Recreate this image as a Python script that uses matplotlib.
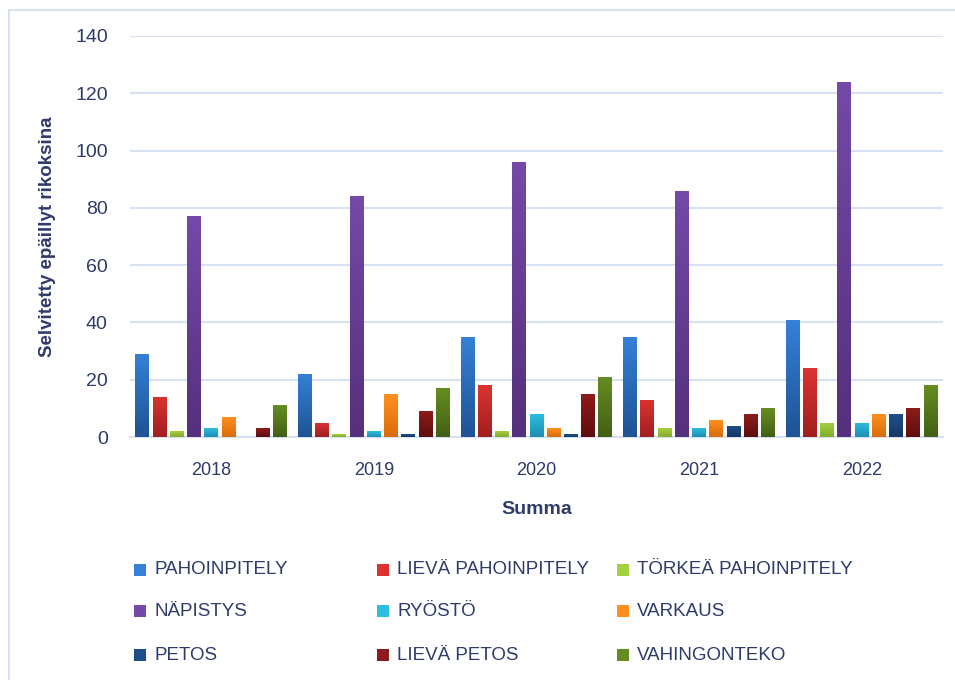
import numpy as np
import matplotlib.pyplot as plt
from matplotlib.patches import Rectangle
from matplotlib.colors import LinearSegmentedColormap

plt.rcParams['font.family'] = ['Liberation Sans', 'DejaVu Sans']

years = ['2018', '2019', '2020', '2021', '2022']
crimes = ['PAHOINPITELY', 'LIEVÄ PAHOINPITELY', 'TÖRKEÄ PAHOINPITELY',
          'NÄPISTYS', 'RYÖSTÖ', 'VARKAUS',
          'PETOS', 'LIEVÄ PETOS', 'VAHINGONTEKO']

pahoinpitely = [29, 22, 35, 35, 41]
lieva_pahoinpitely = [14, 5, 18, 13, 24]
torkea_pahoinpitely = [2, 1, 2, 3, 5]
napistys = [77, 84, 96, 86, 124]
ryosto = [3, 2, 8, 3, 5]
varkaus = [7, 15, 3, 6, 8]
petos = [0, 1, 1, 4, 8]
lieva_petos = [3, 9, 15, 8, 10]
vahingonteko = [11, 17, 21, 10, 18]

series = [pahoinpitely, lieva_pahoinpitely, torkea_pahoinpitely,
          napistys, ryosto, varkaus, petos, lieva_petos, vahingonteko]

# (top colour, bottom colour) for a soft Excel-like gradient
colors = [('#3481d8', '#1f5394'), ('#dc3330', '#a11f1f'), ('#a5d03f', '#82ad2c'),
          ('#7449a8', '#55307c'), ('#2dbde0', '#1b8fb3'), ('#ff901f', '#d96c0c'),
          ('#1f4f8a', '#153763'), ('#8e1b1b', '#5e0e0e'), ('#658d22', '#445f15')]

text_col = '#2e3b6b'
grid_col = '#d6e2f3'

fig = plt.figure(figsize=(9.55, 6.8), dpi=100)
ax = fig.add_axes([130 / 955, 1 - 437 / 680, (943 - 130) / 955, (437 - 36) / 680])

x = np.arange(len(years))
step = 0.106
width = 0.086
grad = np.linspace(0, 1, 64).reshape(-1, 1)
for i, (vals, (c_top, c_bot)) in enumerate(zip(series, colors)):
    pos = x + (i - 4) * step
    bars = ax.bar(pos, vals, width, color=c_top, edgecolor='none', zorder=2)
    cmap = LinearSegmentedColormap.from_list('g', [c_bot, c_top])
    for b in bars:
        if b.get_height() <= 0:
            continue
        bx, by = b.get_x(), b.get_y()
        im = ax.imshow(grad, cmap=cmap, aspect='auto', origin='lower',
                       extent=[bx, bx + b.get_width(), by, by + b.get_height()],
                       zorder=3)
        im.set_clip_path(b)

ax.set_xlim(-0.5, 4.5)
ax.set_ylim(0, 140)
ax.set_yticks(range(0, 141, 20))
ax.set_xticks(x)
ax.set_xticklabels(years)
ax.yaxis.grid(True, color=grid_col, linewidth=1.5, zorder=0)
ax.set_axisbelow(True)
for s in ['top', 'right', 'left']:
    ax.spines[s].set_visible(False)
ax.spines['bottom'].set_color(grid_col)
ax.spines['bottom'].set_linewidth(1.5)
ax.tick_params(axis='y', length=0, pad=16, labelsize=14, labelcolor=text_col)
ax.tick_params(axis='x', length=0, pad=18, labelsize=13, labelcolor=text_col)
ax.set_ylabel('Selvitetty epäillyt rikoksina', fontsize=13.5, fontweight='bold',
              color=text_col, labelpad=14)
ax.set_xlabel('Summa', fontsize=14, fontweight='bold', color=text_col, labelpad=16)

# legend laid out like the original (3 columns, row-major)
col_x = [134, 377, 617]
row_y = [570, 611, 655]
for k, name in enumerate(crimes):
    r, c = divmod(k, 3)
    px, py = col_x[c], row_y[r]
    fig.patches.append(Rectangle((px / 955, 1 - (py + 6) / 680), 12 / 955, 12 / 680,
                                 transform=fig.transFigure, facecolor=colors[k][0],
                                 edgecolor='none'))
    fig.text((px + 20) / 955, 1 - py / 680, name, fontsize=13.5, color=text_col,
             va='center', ha='left')

# outer chart frame
fig.patches.append(Rectangle((9 / 955, -0.1), 1.2, 1 - 10 / 680 + 0.1,
                             transform=fig.transFigure, fill=False,
                             edgecolor=grid_col, linewidth=1.5))

fig.savefig('out.png', dpi=100, facecolor='white')
